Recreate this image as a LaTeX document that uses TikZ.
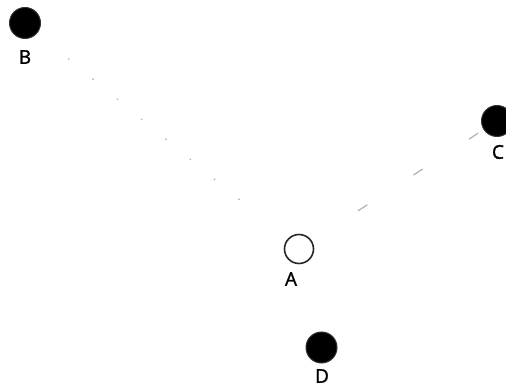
\documentclass[tikz,border=0pt]{standalone}
\usepackage{fontspec}
\setmainfont{Open Sans}
\begin{document}
\begin{tikzpicture}[x=1pt,y=1pt,
  blackdot/.style={circle,fill=black,draw=black!80,line width=1pt,minimum size=31pt,inner sep=0pt},
  whitedot/.style={circle,fill=white,draw=black!85,line width=1.6pt,minimum size=29pt,inner sep=0pt},
  lbl/.style={font=\fontsize{19}{21}\selectfont,text=black,inner sep=0pt},
  faintB/.style={draw=gray!60,line width=1.2pt,dash pattern=on 1.5pt off 30pt},
  faintC/.style={draw=gray!60,line width=1.2pt,dash pattern=on 11pt off 55pt}]
\useasboundingbox[fill=white] (0,0) rectangle (506,388);
\node[blackdot] (B) at (25,365) {};
\node[blackdot] (C) at (497,267) {};
\node[whitedot] (A) at (299,139) {};
\node[blackdot] (D) at (321.5,40.5) {};
\node[lbl] (lB) at (25,331) {\addfontfeature{FakeBold=1.5}B};
\node[lbl] (lC) at (498,236) {\addfontfeature{FakeBold=1.5}C};
\node[lbl] (lA) at (291,109) {\addfontfeature{FakeBold=1.5}A};
\node[lbl] (lD) at (322,12) {\addfontfeature{FakeBold=1.5}D};
\draw[faintB,shorten <=40pt,shorten >=50pt] (B) -- (A);
\draw[faintC,shorten <=55pt,shorten >=4pt] (A) -- (C);
\end{tikzpicture}
\end{document}
